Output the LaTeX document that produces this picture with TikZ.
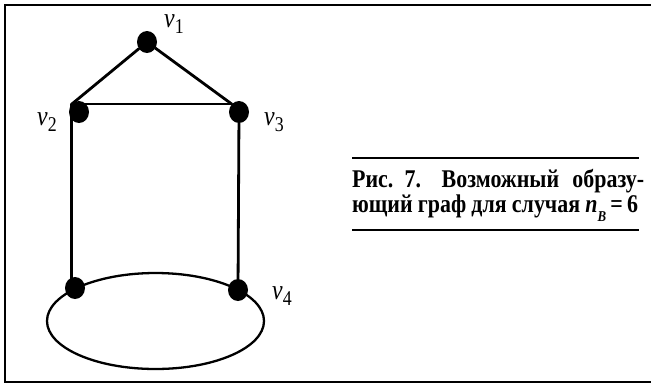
\documentclass[tikz,border=0pt]{standalone}
\usepackage{fontspec}
\usepackage{graphicx}
\setmainfont{Liberation Serif}
\newfontfamily\narrowfont{Liberation Serif}[FakeStretch=0.85]
\newfontfamily\capfont{Liberation Serif}[FakeStretch=0.86]
\usetikzlibrary{shapes.geometric}
\tikzset{
    x=1pt, y=-1pt,
    vert/.style={ellipse, fill=black, inner sep=0pt,
                 minimum width=20pt, minimum height=22pt},
    edge/.style={line width=2.8pt, line cap=round},
    oval/.style={line width=2.3pt},
    frame/.style={line width=2pt},
    rule/.style={line width=1.6pt},
    vlbl/.style={font=\narrowfont\fontsize{28}{28}\selectfont,
                 inner sep=0pt, anchor=base west},
    caplbl/.style={font=\capfont\bfseries\fontsize{25.5}{25}\selectfont,
                   inner sep=0pt, anchor=base west},
}
\newcommand{\vname}[1]{\textit{v}\raisebox{-6pt}{\fontsize{21}{21}\selectfont #1}}

\begin{document}
\begin{tikzpicture}
    \useasboundingbox (0,0) rectangle (651,384);

    % frame, open on the right
    \draw[frame] (651,5) -- (5,5) -- (5,382) -- (651,382);

    % vertices
    \node[vert] (v1) at (147,42) {};
    \node[vert] (v2) at (79,112) {};
    \node[vert] (v3) at (239,112) {};
    \node[vert] (v5) at (75,288) {};
    \node[vert] (v4) at (238,290) {};

    \node[vlbl] (l1) at (164,27) {\vname{1}};
    \node[vlbl] (l2) at (37,125) {\vname{2}};
    \node[vlbl] (l3) at (264,125) {\vname{3}};
    \node[vlbl] (l4) at (272,299) {\vname{4}};

    % edges
    \draw[edge] (v1) -- (v2.north west);
    \draw[edge] (v1) -- (v3.north west);
    \draw[edge] (v2.north west) -- (v3.north west);
    \draw[edge] (v2.north west) -- (v2.north west |- v5.center);
    \draw[edge] (v3) -- (v4);
    \coordinate (mid) at (155.5,321);
    \draw[oval] (mid) ellipse [x radius=108.5pt, y radius=48pt];

    % caption
    \coordinate (r1a) at (352,158);
    \coordinate (r1b) at (639,158);
    \coordinate (r2a) at (352,230);
    \coordinate (r2b) at (639,230);
    \draw[rule] (r1a) -- (r1b);
    \draw[rule] (r2a) -- (r2b);
    \node[caplbl] (cap1) at (352,187)
        {\makebox[292pt][s]{Рис.\hspace{8pt plus 1fil}7.\hspace{14pt plus 2fil}Возможный\hspace{10pt plus 1fil}образу-}};
    \node[caplbl] (cap2) at (352,212)
        {\makebox[286pt][s]{ющий граф для случая
         \textit{n}\raisebox{-9pt}{\fontsize{15}{15}\selectfont\textit{B}}\,=\,6}};
\end{tikzpicture}
\end{document}
